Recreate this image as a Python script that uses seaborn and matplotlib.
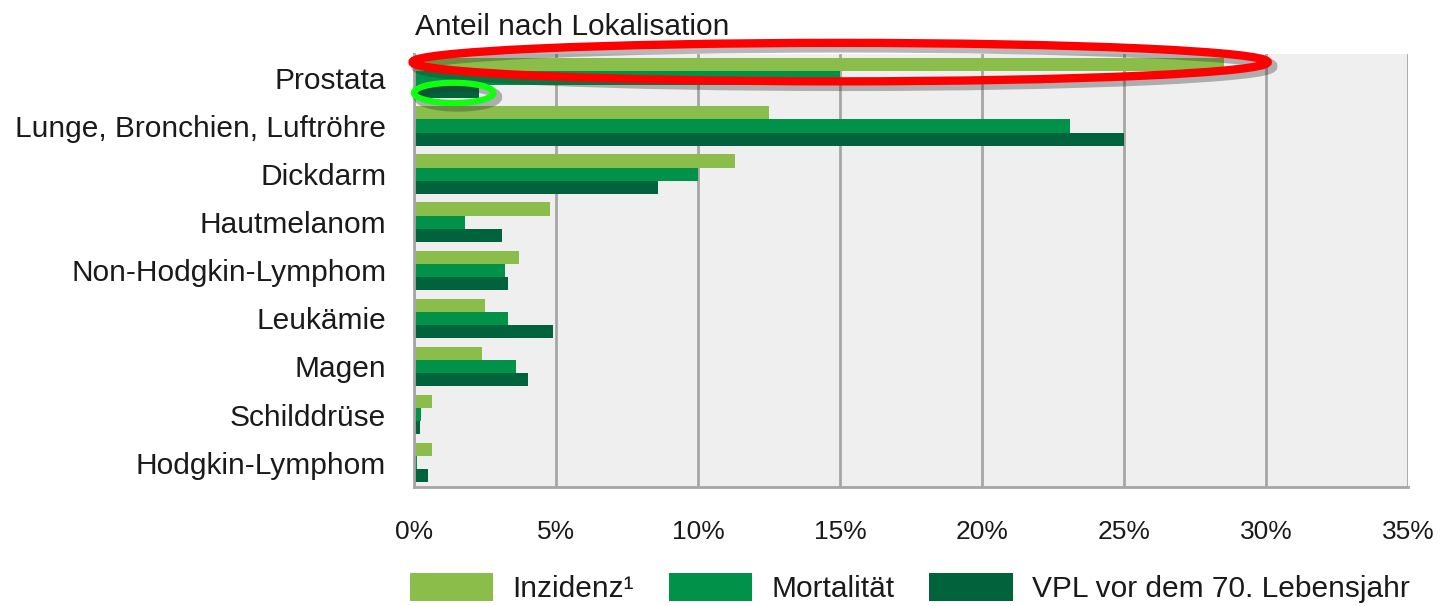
import pandas as pd
import matplotlib.pyplot as plt
from matplotlib.patches import Ellipse
from matplotlib.transforms import offset_copy
from matplotlib.ticker import PercentFormatter
import seaborn as sns

# Daten (Anteil in %)
lokalisation = ['Prostata', 'Lunge, Bronchien, Luftröhre', 'Dickdarm', 'Hautmelanom',
                'Non-Hodgkin-Lymphom', 'Leukämie', 'Magen', 'Schilddrüse', 'Hodgkin-Lymphom']
inzidenz = [28.5, 12.5, 11.3, 4.8, 3.7, 2.5, 2.4, 0.65, 0.65]
mortalitaet = [15.0, 23.1, 10.0, 1.8, 3.2, 3.3, 3.6, 0.25, 0.12]
vpl = [2.3, 25.0, 8.6, 3.1, 3.3, 4.9, 4.0, 0.22, 0.5]
serien = ['Inzidenz¹', 'Mortalität', 'VPL vor dem 70. Lebensjahr']
farben = ['#8bbd4a', '#009248', '#00633b']

df = pd.DataFrame({'Lokalisation': lokalisation, serien[0]: inzidenz,
                   serien[1]: mortalitaet, serien[2]: vpl})
df = df.melt(id_vars='Lokalisation', var_name='Serie', value_name='Anteil')

sns.set_style('white')
plt.rcParams['font.family'] = ['Liberation Sans', 'DejaVu Sans']
plt.rcParams['text.color'] = '#1a1a1a'
plt.rcParams['xtick.color'] = '#1a1a1a'
plt.rcParams['ytick.color'] = '#1a1a1a'

fig = plt.figure(figsize=(14.4, 6.06), dpi=100)
ax = fig.add_axes([0.2875, 0.197, 0.6905, 0.714])
ax.set_facecolor('#efefef')

sns.barplot(data=df, y='Lokalisation', x='Anteil', hue='Serie', orient='h',
            palette=farben, width=0.82, gap=0, ax=ax, legend=True, saturation=1,
            linewidth=0)

ax.set_xlim(0, 35)
ax.set_xticks(range(0, 36, 5))
ax.xaxis.set_major_formatter(PercentFormatter(decimals=0))
ax.grid(axis='x', color='#a6a6a6', linewidth=2)
ax.set_axisbelow(True)
ax.set_xlabel('')
ax.set_ylabel('')
for s in ['top', 'right']:
    ax.spines[s].set_visible(False)
for s in ['left', 'bottom']:
    ax.spines[s].set_color('#a6a6a6')
    ax.spines[s].set_linewidth(2)
ax.tick_params(axis='x', length=8, width=1.5, color='#a6a6a6', pad=16, labelsize=19)
ax.tick_params(axis='y', length=0, pad=20, labelsize=21.5)

handles, labels = ax.get_legend_handles_labels()
ax.get_legend().remove()
fig.legend(handles, labels, loc='lower left', bbox_to_anchor=(0.27, -0.03), ncol=3,
           frameon=False, fontsize=21.5, handlelength=2.8, handleheight=1.05,
           columnspacing=1.15, handletextpad=0.65, borderpad=0.2)

fig.text(0.288, 0.955, 'Anteil nach Lokalisation', fontsize=21.5, va='center', ha='left')

# Markierungen mit Schatten
schatten = offset_copy(ax.transData, fig=fig, x=3, y=-3, units='points')
markierungen = [((15.0, -0.33), 30.1, 0.8, '#ff0000', 6),
                ((1.4, 0.31), 2.8, 0.42, '#10ff10', 4.5)]
for mitte, breite, hoehe, farbe, lw in markierungen:
    ax.add_patch(Ellipse(mitte, breite, hoehe, fill=False, edgecolor='#333333',
                         alpha=0.35, linewidth=lw + 2, clip_on=False, zorder=9,
                         transform=schatten))
    ax.add_patch(Ellipse(mitte, breite, hoehe, fill=False, edgecolor=farbe,
                         linewidth=lw, clip_on=False, zorder=10))

fig.savefig('out.png', dpi=100)
